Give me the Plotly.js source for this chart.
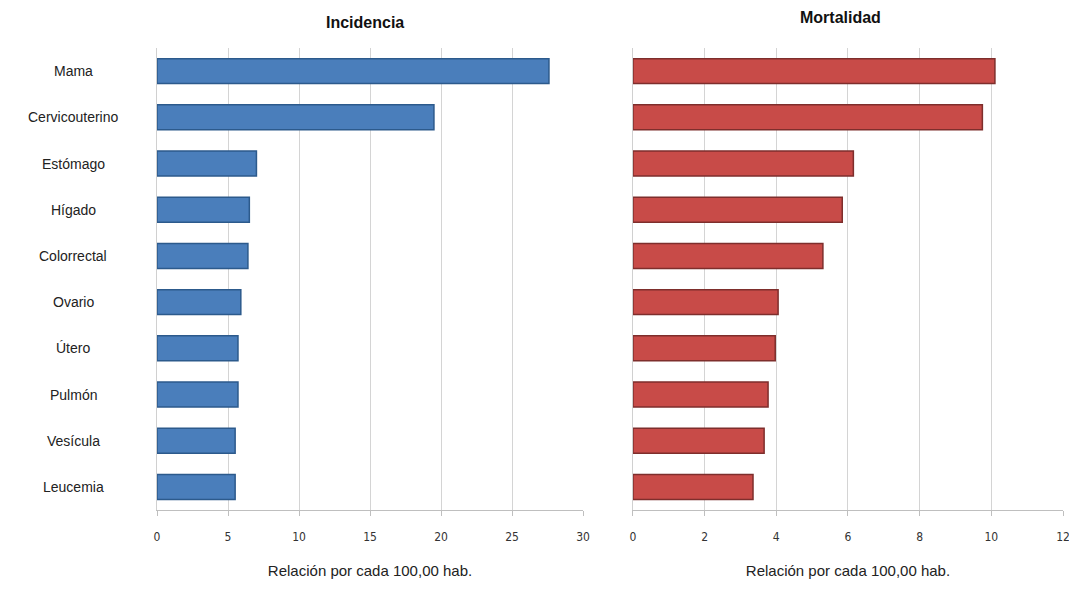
<!DOCTYPE html>
<html><head><meta charset="utf-8">
<script src="https://cdn.plot.ly/plotly-3.0.1.min.js"></script>
<style>html,body{margin:0;padding:0;background:#fff;}#chart{width:1069px;height:589px;}</style>
</head><body><div id="chart"></div>
<script>
const categories = ["Mama","Cervicouterino","Estómago","Hígado","Colorrectal","Ovario","Útero","Pulmón","Vesícula","Leucemia"];
const incidencia = [27.6, 19.5, 7.0, 6.5, 6.4, 5.9, 5.7, 5.7, 5.5, 5.5];
const mortalidad = [10.1, 9.75, 6.15, 5.84, 5.3, 4.05, 3.97, 3.77, 3.66, 3.35];
const incTicks = [0,5,10,15,20,25,30];
const morTicks = [0,2,4,6,8,10,12];
const axisTitle = "Relación por cada 100,00 hab.";

const data = [
  {type:"bar", orientation:"h", y:categories, x:incidencia, xaxis:"x", yaxis:"y",
   width:0.54, marker:{color:"#4A7EBB", line:{color:"#2C5A8C", width:1.5}}, hoverinfo:"x+y"},
  {type:"bar", orientation:"h", y:categories, x:mortalidad, xaxis:"x2", yaxis:"y2",
   width:0.54, marker:{color:"#C84B48", line:{color:"#7E2E2C", width:1.5}}, hoverinfo:"x+y"}
];

const fontBase = {family:"Liberation Sans, Arial, sans-serif", color:"#222"};
const tickFont = {size:12, color:"#333", family:"DejaVu Sans Condensed, Liberation Sans, sans-serif"};
const labelAnnotations = categories.map(c => ({
  text:c, xref:"paper", yref:"y", x:73/1069, y:c, showarrow:false,
  xanchor:"center", yanchor:"middle", font:{size:14, color:"#222"}
}));

const layout = {
  width:1069, height:589,
  margin:{l:0,r:0,t:0,b:0},
  paper_bgcolor:"#fff", plot_bgcolor:"#fff",
  showlegend:false,
  font:fontBase,
  xaxis:{domain:[0.1469,0.5454], range:[0,30], tickvals:incTicks, ticktext:incTicks.map(String),
    showgrid:true, gridcolor:"#D4D4D4", gridwidth:1, zeroline:false,
    showline:true, linecolor:"#BFBFBF", ticks:"outside", ticklen:5, tickcolor:"#BFBFBF",
    tickfont:tickFont, ticklabelstandoff:11, ticklabeloverflow:"allow",
    title:{text:axisTitle, font:{size:15, color:"#222"}, standoff:22}, anchor:"y"},
  yaxis:{domain:[0.134,0.9185], type:"category", autorange:"reversed",
    showgrid:false, showline:true, linecolor:"#D0D0D0", ticks:"", zeroline:false,
    showticklabels:false, anchor:"x"},
  xaxis2:{domain:[0.5921,0.9944], range:[0,12], tickvals:morTicks, ticktext:morTicks.map(String),
    showgrid:true, gridcolor:"#D4D4D4", gridwidth:1, zeroline:false,
    showline:true, linecolor:"#BFBFBF", ticks:"outside", ticklen:5, tickcolor:"#BFBFBF",
    tickfont:tickFont, ticklabelstandoff:11, ticklabeloverflow:"allow",
    title:{text:axisTitle, font:{size:15, color:"#222"}, standoff:22}, anchor:"y2"},
  yaxis2:{domain:[0.134,0.9185], type:"category", autorange:"reversed",
    showgrid:false, showline:true, linecolor:"#D0D0D0", ticks:"", zeroline:false,
    showticklabels:false, anchor:"x2"},
  annotations:[
    {text:"<b>Incidencia</b>", xref:"paper", yref:"paper", x:365/1069, y:1-22/589,
     showarrow:false, font:{size:16, color:"#111"}, xanchor:"center", yanchor:"middle"},
    {text:"<b>Mortalidad</b>", xref:"paper", yref:"paper", x:840/1069, y:1-18/589,
     showarrow:false, font:{size:16, color:"#111"}, xanchor:"center", yanchor:"middle"}
  ].concat(labelAnnotations)
};
Plotly.newPlot("chart", data, layout, {displayModeBar:false, staticPlot:true});
</script></body></html>
